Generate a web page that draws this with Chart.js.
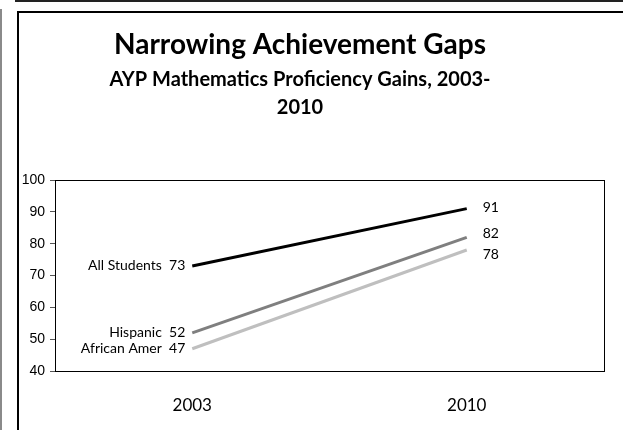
<!DOCTYPE html>
<html>
<head>
<meta charset="utf-8">
<script src="https://cdn.jsdelivr.net/npm/chart.js@4/dist/chart.umd.min.js"></script>
<style>
  html, body { margin: 0; padding: 0; background: #fff; width: 623px; height: 430px; overflow: hidden; }
  .topline { position: absolute; left: 15px; top: 0px; width: 608px; height: 2px; background: #222; }
  .sideline { position: absolute; left: 0px; top: 9px; width: 2px; height: 421px; background: #8a8a8a; }
  .frame { position: absolute; left: 17px; top: 11px; width: 606px; height: 419px;
           border-left: 2px solid #000; border-top: 2px solid #000; box-sizing: border-box; }
  canvas { position: absolute; left: 19px; top: 13px; }
</style>
</head>
<body>
<div class="topline"></div>
<div class="sideline"></div>
<div class="frame"></div>
<canvas id="c" width="604" height="417"></canvas>
<script>
// Years and proficiency rates (%) per student group
const years = ['2003', '2010'];
const groups = ['All Students', 'Hispanic', 'African Amer'];
const allStudents = [73, 91];
const hispanic = [52, 82];
const africanAmer = [47, 78];
const yTicks = [40, 50, 60, 70, 80, 90, 100];

const titleText = 'Narrowing Achievement Gaps';
const subtitleLines = ['AYP Mathematics Proficiency Gains, 2003-', '2010'];

const lineColors = ['#000000', '#7f7f7f', '#bfbfbf'];
// vertical nudges for end labels so they don't collide
const endNudge = [-1, -4, 4];

const headingPlugin = {
  id: 'heading',
  afterDraw(chart) {
    const ctx = chart.ctx;
    ctx.save();
    ctx.fillStyle = '#000';
    ctx.textAlign = 'center';
    ctx.textBaseline = 'middle';
    ctx.font = 'bold 28px Lato';
    ctx.fillText(titleText, 281, 32);
    ctx.font = 'bold 20px Lato';
    ctx.fillText(subtitleLines[0], 281, 67);
    ctx.fillText(subtitleLines[1], 281, 95);
    ctx.restore();
  }
};

const frameAndLabels = {
  id: 'frameAndLabels',
  afterDatasetsDraw(chart) {
    const ctx = chart.ctx;
    const a = chart.chartArea;
    ctx.save();
    ctx.strokeStyle = '#000';
    ctx.lineWidth = 1;
    ctx.strokeRect(Math.round(a.left) + 0.5, Math.round(a.top) + 0.5,
                   Math.round(a.right - a.left), Math.round(a.bottom - a.top));
    ctx.fillStyle = '#000';
    ctx.font = '14px Lato';
    ctx.textBaseline = 'middle';
    chart.data.datasets.forEach((ds, i) => {
      const pts = chart.getDatasetMeta(i).data;
      const p0 = pts[0], p1 = pts[1];
      ctx.textAlign = 'right';
      ctx.fillText(ds.label + '  ' + ds.data[0], p0.x - 7, p0.y);
      ctx.textAlign = 'left';
      ctx.fillText(String(ds.data[1]), p1.x + 16, p1.y + endNudge[i]);
    });
    ctx.restore();
  }
};

const seriesValues = [allStudents, hispanic, africanAmer];

new Chart(document.getElementById('c'), {
  type: 'line',
  data: {
    labels: years,
    datasets: groups.map((g, i) => ({
      label: g,
      data: seriesValues[i],
      borderColor: lineColors[i],
      backgroundColor: lineColors[i],
      borderWidth: 3,
      pointRadius: 0,
      tension: 0,
      fill: false
    }))
  },
  options: {
    responsive: false,
    animation: false,
    devicePixelRatio: 1,
    layout: { padding: { top: 167, right: 19, bottom: 0, left: 0 } },
    plugins: { legend: { display: false }, tooltip: { enabled: false }, title: { display: false } },
    scales: {
      x: {
        offset: true,
        grid: { display: false },
        border: { display: false },
        ticks: { color: '#000', font: { family: 'Lato', size: 17 }, padding: 16, maxRotation: 0 },
        afterFit(scale) { scale.height = 59; }
      },
      y: {
        min: 40,
        max: 100,
        afterBuildTicks(scale) { scale.ticks = yTicks.map(v => ({ value: v })); },
        grid: { drawOnChartArea: false, drawTicks: true, tickLength: 5, color: '#555' },
        border: { display: false },
        ticks: { color: '#000', font: { family: 'Liberation Sans', size: 14 }, padding: 5 },
        afterFit(scale) { scale.width = 36; }
      }
    }
  },
  plugins: [headingPlugin, frameAndLabels]
});
</script>
</body>
</html>
